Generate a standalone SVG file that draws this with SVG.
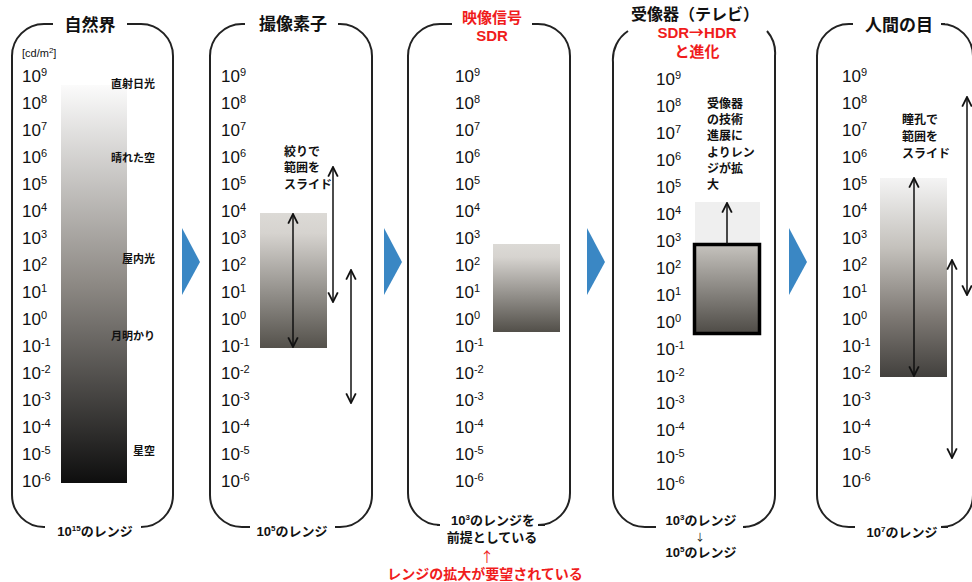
<svg xmlns="http://www.w3.org/2000/svg" xmlns:xlink="http://www.w3.org/1999/xlink" width="972" height="582" viewBox="0 0 972 582">
<style>
text{font-family:"Liberation Sans","Noto Sans CJK JP",sans-serif;fill:#111}
.n{font-size:17px}
.s{font-size:11px}
.t{font-size:17px;font-weight:bold;text-anchor:middle}
.tr{font-size:15px;font-weight:bold;text-anchor:middle;fill:#f01c1c}
.lb{font-size:11px;font-weight:bold;text-anchor:end}
.nt{font-size:12px;font-weight:bold}
.bt{font-size:13px;font-weight:bold;text-anchor:middle}
.red{font-size:14px;font-weight:bold;text-anchor:middle;fill:#f01c1c}
.ar{font-family:"Noto Sans CJK JP",sans-serif}
.frame{fill:none;stroke:#222;stroke-width:2}
.arr{fill:none;stroke:#111;stroke-width:1.5}
.tri{fill:#3a87c4}
</style>
<defs>
<marker id="ah" markerUnits="userSpaceOnUse" markerWidth="12" markerHeight="12" viewBox="0 0 10 10" refX="9" refY="5" orient="auto-start-reverse">
<path d="M1,1 L9,5 L1,9" fill="none" stroke="#111" stroke-width="1.5"/>
</marker>
<linearGradient id="g1" x1="0" y1="0" x2="0" y2="1">
<stop offset="0" stop-color="#fbfbfb"/><stop offset="0.5" stop-color="#8d8984"/><stop offset="1" stop-color="#0e0e0e"/>
</linearGradient>
<linearGradient id="g2" x1="0" y1="0" x2="0" y2="1">
<stop offset="0" stop-color="#dcdad6"/><stop offset="0.15" stop-color="#d6d3cf"/><stop offset="1" stop-color="#54514b"/>
</linearGradient>
<linearGradient id="g3" x1="0" y1="0" x2="0" y2="1">
<stop offset="0" stop-color="#dcdad6"/><stop offset="0.15" stop-color="#d6d3cf"/><stop offset="1" stop-color="#524f49"/>
</linearGradient>
<linearGradient id="g4" x1="0" y1="0" x2="0" y2="1">
<stop offset="0" stop-color="#c6c3be"/><stop offset="1" stop-color="#4e4b46"/>
</linearGradient>
<linearGradient id="g5" x1="0" y1="0" x2="0" y2="1">
<stop offset="0" stop-color="#f4f4f4"/><stop offset="0.35" stop-color="#c4c1bc"/><stop offset="0.7" stop-color="#7d7873"/><stop offset="1" stop-color="#42403d"/>
</linearGradient>
<g id="scale">
<text class="n" y="82">10<tspan class="s" dy="-6">9</tspan></text>
<text class="n" y="109">10<tspan class="s" dy="-6">8</tspan></text>
<text class="n" y="136">10<tspan class="s" dy="-6">7</tspan></text>
<text class="n" y="163">10<tspan class="s" dy="-6">6</tspan></text>
<text class="n" y="190">10<tspan class="s" dy="-6">5</tspan></text>
<text class="n" y="217">10<tspan class="s" dy="-6">4</tspan></text>
<text class="n" y="244">10<tspan class="s" dy="-6">3</tspan></text>
<text class="n" y="271">10<tspan class="s" dy="-6">2</tspan></text>
<text class="n" y="298">10<tspan class="s" dy="-6">1</tspan></text>
<text class="n" y="325">10<tspan class="s" dy="-6">0</tspan></text>
<text class="n" y="352">10<tspan class="s" dy="-6">-1</tspan></text>
<text class="n" y="379">10<tspan class="s" dy="-6">-2</tspan></text>
<text class="n" y="406">10<tspan class="s" dy="-6">-3</tspan></text>
<text class="n" y="433">10<tspan class="s" dy="-6">-4</tspan></text>
<text class="n" y="460">10<tspan class="s" dy="-6">-5</tspan></text>
<text class="n" y="487">10<tspan class="s" dy="-6">-6</tspan></text>
</g>
</defs>
<rect width="972" height="582" fill="#fff"/>

<g id="nature">
<path class="frame" d="M53,24 H44 A32,32 0 0 0 12,56 V495 A32,32 0 0 0 44,527 H45"/>
<path class="frame" d="M127,24 H141 A32,32 0 0 1 173,56 V495 A32,32 0 0 1 141,527 H142"/>
<text class="t" x="90" y="31">自然界</text>
<text x="22" y="57" style="font-size:11px">[cd/m<tspan font-size="8" dy="-4">2</tspan><tspan dy="4">]</tspan></text>
<rect x="61" y="85" width="66" height="398" fill="url(#g1)"/>
<use xlink:href="#scale" x="22"/>
<text class="lb" x="155" y="88">直射日光</text>
<text class="lb" x="155" y="162">晴れた空</text>
<text class="lb" x="155" y="263">屋内光</text>
<text class="lb" x="155" y="340">月明かり</text>
<text class="lb" x="155" y="455">星空</text>
<text class="bt" x="95" y="536">10<tspan font-size="8" dy="-5">15</tspan><tspan dy="5">のレンジ</tspan></text>
</g>

<g id="sensor">
<path class="frame" d="M245,24 H242 A32,32 0 0 0 210,56 V495 A32,32 0 0 0 242,527 H250"/>
<path class="frame" d="M338,24 H340 A32,32 0 0 1 372,56 V495 A32,32 0 0 1 340,527 H335"/>
<text class="t" x="293" y="30">撮像素子</text>
<use xlink:href="#scale" x="221"/>
<rect x="260" y="213" width="67" height="135" fill="url(#g2)"/>
<text class="nt" x="284" y="156">絞りで</text>
<text class="nt" x="284" y="172">範囲を</text>
<text class="nt" x="284" y="189">スライド</text>
<text class="bt" x="292" y="536">10<tspan font-size="8" dy="-5">5</tspan><tspan dy="5">のレンジ</tspan></text>
</g>

<g id="signal">
<path class="frame" d="M452,24 H440 A32,32 0 0 0 408,56 V493 A32,32 0 0 0 440,525 H437"/>
<path class="frame" d="M532,24 H538 A32,32 0 0 1 570,56 V493 A32,32 0 0 1 538,525 H545"/>
<text class="tr" x="492" y="23">映像信号</text>
<text class="tr" x="492" y="41">SDR</text>
<use xlink:href="#scale" x="455"/>
<rect x="493" y="244" width="67" height="88" fill="url(#g3)"/>
<text class="bt" x="493" y="525">10<tspan font-size="8" dy="-5">3</tspan><tspan dy="5">のレンジを</tspan></text>
<text class="bt" x="492" y="542">前提としている</text>
<text class="red ar" x="487" y="562" style="font-weight:normal">↑</text>
<text class="red" x="485" y="579">レンジの拡大が要望されている</text>
</g>

<g id="tv">
<path class="frame" d="M628,31 A34,34 0 0 0 613,62 V495 A32,32 0 0 0 645,527 H656"/>
<path class="frame" d="M767,31 A34,34 0 0 1 775,56 V495 A32,32 0 0 1 743,527 H746"/>
<text class="t" x="695" y="20" style="font-size:16px">受像器（テレビ）</text>
<text class="tr" x="697" y="38">SDR<tspan class="ar">→</tspan>HDR</text>
<text class="tr" x="697" y="57">と進化</text>
<use xlink:href="#scale" x="656" y="3"/>
<rect x="695" y="202" width="65" height="42" fill="#efefef"/>
<rect x="694.5" y="244.5" width="65" height="89" fill="url(#g4)" stroke="#000" stroke-width="3.5"/>
<text class="nt" x="707" y="108">受像器</text>
<text class="nt" x="707" y="124">の技術</text>
<text class="nt" x="707" y="140">進展に</text>
<text class="nt" x="707" y="157">よりレン</text>
<text class="nt" x="707" y="173">ジが拡</text>
<text class="nt" x="707" y="189">大</text>
<text class="bt" x="701" y="525">10<tspan font-size="8" dy="-5">3</tspan><tspan dy="5">のレンジ</tspan></text>
<text class="bt ar" x="700" y="541" style="font-weight:normal;font-size:10px">↓</text>
<text class="bt" x="701" y="557">10<tspan font-size="8" dy="-5">5</tspan><tspan dy="5">のレンジ</tspan></text>
</g>

<g id="eye">
<path class="frame" d="M853,24 H849 A32,32 0 0 0 817,56 V495 A32,32 0 0 0 849,527 H855"/>
<path class="frame" d="M945,24 H941 A32,32 0 0 1 973,56 V495 A32,32 0 0 1 941,527 H948"/>
<text class="t" x="899" y="31">人間の目</text>
<use xlink:href="#scale" x="842"/>
<rect x="880" y="178" width="67" height="199" fill="url(#g5)"/>
<text class="nt" x="902" y="124">瞳孔で</text>
<text class="nt" x="902" y="141">範囲を</text>
<text class="nt" x="902" y="158">スライド</text>
<text class="bt" x="902" y="537">10<tspan font-size="8" dy="-5">7</tspan><tspan dy="5">のレンジ</tspan></text>
</g>

<g id="connectors">
<polygon class="tri" points="182,228 182,295 200,262"/>
<polygon class="tri" points="384,228 384,295 402,262"/>
<polygon class="tri" points="587,228 587,295 605,262"/>
<polygon class="tri" points="789,228 789,295 807,262"/>
<line class="arr" x1="293" y1="214" x2="293" y2="347" marker-start="url(#ah)" marker-end="url(#ah)"/>
<line class="arr" x1="333" y1="167" x2="333" y2="302" marker-start="url(#ah)" marker-end="url(#ah)"/>
<line class="arr" x1="351" y1="270" x2="351" y2="403" marker-start="url(#ah)" marker-end="url(#ah)"/>
<line class="arr" x1="727" y1="244" x2="727" y2="203" marker-end="url(#ah)"/>
<line class="arr" x1="914" y1="178" x2="914" y2="376" marker-start="url(#ah)" marker-end="url(#ah)"/>
<line class="arr" x1="967" y1="97" x2="967" y2="295" marker-start="url(#ah)" marker-end="url(#ah)"/>
<line class="arr" x1="952" y1="260" x2="952" y2="458" marker-start="url(#ah)" marker-end="url(#ah)"/>
</g>
</svg>
